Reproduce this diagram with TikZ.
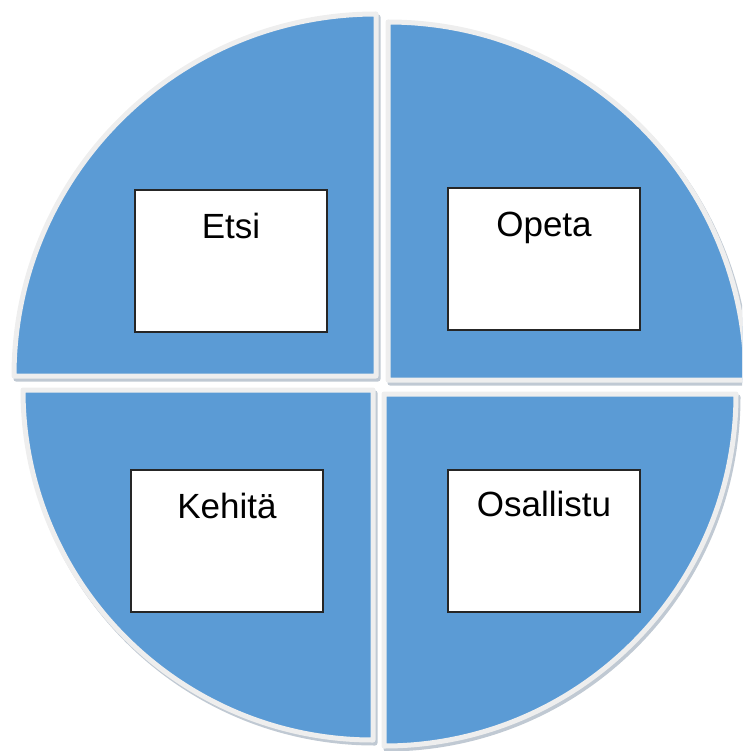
\documentclass[tikz,border=0pt]{standalone}
\usepackage{fontspec}
\setmainfont{Liberation Sans}
\definecolor{quadblue}{RGB}{91,155,213}
\definecolor{rimgrey}{RGB}{238,238,238}
\definecolor{shadowgrey}{RGB}{150,165,182}
\tikzset{
  quad/.style={fill=quadblue, draw=rimgrey, line width=5pt, line join=round},
  quadshadow/.style={fill=shadowgrey, draw=shadowgrey!60, line width=5pt, line join=round},
  labelbox/.style={draw=black!85, fill=white, line width=1.3pt},
  labeltext/.style={anchor=base, font=\fontsize{35}{40}\selectfont, text=black, inner sep=0pt}
}
\begin{document}
\begin{tikzpicture}[x=1pt,y=-1pt]
\useasboundingbox (0,0) rectangle (742,751);
\clip (0,0) rectangle (742,751);
% shadows
\begin{scope}[shift={(2,3)}]
\path[quadshadow] (376,376) -- ++(-362,0) arc[start angle=180,end angle=270,radius=362] -- cycle;
\path[quadshadow] (388,380) -- ++(0,-358) arc[start angle=270,end angle=360,radius=358] -- cycle;
\path[quadshadow] (373,390) -- ++(0,350) arc[start angle=90,end angle=180,radius=350] -- cycle;
\path[quadshadow] (384,394) -- ++(352,0) arc[start angle=0,end angle=90,radius=352] -- cycle;
\end{scope}
% quadrants
\path[quad] (376,376) -- ++(-362,0) arc[start angle=180,end angle=270,radius=362] -- cycle;
\path[quad] (388,380) -- ++(0,-358) arc[start angle=270,end angle=360,radius=358] -- cycle;
\path[quad] (373,390) -- ++(0,350) arc[start angle=90,end angle=180,radius=350] -- cycle;
\path[quad] (384,394) -- ++(352,0) arc[start angle=0,end angle=90,radius=352] -- cycle;
% boxes
\draw[labelbox] (135,190) rectangle (327,332);
\draw[labelbox] (448,188) rectangle (640,330);
\draw[labelbox] (131,470) rectangle (323,612);
\draw[labelbox] (448,470) rectangle (640,612);
\node[labeltext] (etsi) at (231,238) {Etsi};
\node[labeltext] (opeta) at (544,236) {Opeta};
\node[labeltext] (kehita) at (227,518) {Kehitä};
\node[labeltext] (osallistu) at (544,516) {Osallistu};
\end{tikzpicture}
\end{document}
